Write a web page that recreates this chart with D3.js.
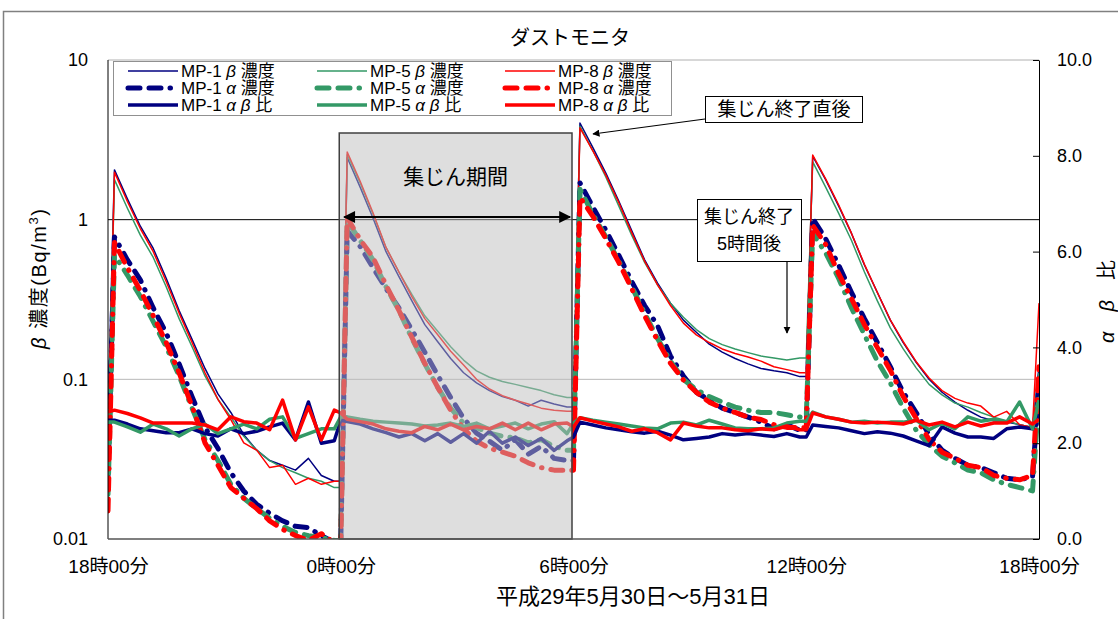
<!DOCTYPE html>
<html>
<head>
<meta charset="utf-8">
<script src="https://cdn.jsdelivr.net/npm/d3@7"></script>
<style>
  body { margin: 0; background: #fff; }
  text { font-family: "Liberation Sans", "Noto Sans CJK JP", sans-serif; fill: #000; }
</style>
</head>
<body>
<svg id="chart"></svg>
<script>
// time in minutes from 18:00 on 5/30
const minutes = [
  0, 10, 30, 50, 70, 90, 110, 130, 150, 170, 190, 210, 230, 250, 270, 290, 310, 330, 350,
  360, 370, 390, 410, 430, 450, 470, 490, 510, 530, 550, 570, 590, 610, 630, 650, 670, 690, 710,
  720, 730, 750, 770, 790, 810, 830, 850, 870, 890, 910, 930, 950, 970, 990, 1010, 1030, 1050, 1070,
  1080, 1090, 1110, 1130, 1150, 1170, 1190, 1210, 1230, 1250, 1270, 1290, 1310, 1330, 1350, 1370, 1390, 1410, 1430,
  1440
];

const xTickMinutes = [0, 360, 720, 1080, 1440];
const xTickLabels = ["18時00分", "0時00分", "6時00分", "12時00分", "18時00分"];
const yTickValues = [0.01, 0.1, 1, 10];
const yTickLabels = ["0.01", "0.1", "1", "10"];
const ratioTicks = [0, 2, 4, 6, 8, 10];

// β concentration (Bq/m3)
const beta1 = [
  0.06, 2.05, 1.35, 0.91, 0.66, 0.43, 0.27, 0.178, 0.117, 0.081, 0.062, 0.045, 0.036, 0.031, 0.029, 0.027, 0.032, 0.025, 0.023,
  0.023, 2.45, 1.60, 1.02, 0.63, 0.44, 0.31, 0.22, 0.172, 0.135, 0.110, 0.095, 0.085, 0.078, 0.074, 0.068, 0.074, 0.070, 0.067,
  0.067, 4.03, 2.83, 1.96, 1.31, 0.855, 0.56, 0.40, 0.30, 0.235, 0.197, 0.166, 0.148, 0.135, 0.125, 0.117, 0.113, 0.110, 0.104,
  0.104, 2.50, 1.78, 1.22, 0.82, 0.52, 0.35, 0.235, 0.17, 0.128, 0.10, 0.083, 0.072, 0.064, 0.058, 0.055, 0.054, 0.052, 0.050,
  0.12
];
const beta5 = [
  0.047, 1.78, 1.18, 0.80, 0.58, 0.38, 0.24, 0.16, 0.105, 0.075, 0.058, 0.044, 0.036, 0.031, 0.028, 0.026, 0.024, 0.023, 0.021,
  0.021, 2.55, 1.70, 1.08, 0.67, 0.47, 0.34, 0.25, 0.20, 0.16, 0.132, 0.113, 0.103, 0.097, 0.093, 0.089, 0.085, 0.080, 0.077,
  0.077, 3.85, 2.70, 1.85, 1.22, 0.80, 0.54, 0.39, 0.30, 0.245, 0.205, 0.18, 0.165, 0.155, 0.147, 0.14, 0.136, 0.132, 0.136,
  0.136, 2.30, 1.60, 1.10, 0.74, 0.47, 0.31, 0.21, 0.155, 0.118, 0.093, 0.080, 0.071, 0.067, 0.062, 0.058, 0.055, 0.052, 0.050,
  0.11
];
const beta8 = [
  0.04, 1.98, 1.30, 0.88, 0.63, 0.41, 0.26, 0.17, 0.11, 0.075, 0.056, 0.040, 0.036, 0.028, 0.029, 0.022, 0.024, 0.022, 0.023,
  0.023, 2.65, 1.74, 1.10, 0.67, 0.47, 0.33, 0.24, 0.19, 0.15, 0.123, 0.10, 0.087, 0.079, 0.074, 0.07, 0.066, 0.064, 0.063,
  0.063, 3.76, 2.70, 1.90, 1.28, 0.83, 0.55, 0.39, 0.29, 0.225, 0.19, 0.17, 0.155, 0.145, 0.138, 0.13, 0.12, 0.115, 0.11,
  0.11, 2.54, 1.80, 1.24, 0.82, 0.525, 0.35, 0.236, 0.172, 0.129, 0.102, 0.085, 0.076, 0.071, 0.068, 0.058, 0.063, 0.052, 0.050,
  0.30
];

// α concentration (Bq/m3)
const alpha1 = [
  0.025, 0.78, 0.56, 0.42, 0.28, 0.195, 0.125, 0.078, 0.05, 0.037, 0.026, 0.020, 0.0165, 0.0145, 0.013, 0.012, 0.0118, 0.0105, 0.0095,
  0.0095, 0.85, 0.68, 0.50, 0.37, 0.28, 0.204, 0.148, 0.106, 0.077, 0.057, 0.046, 0.041, 0.036, 0.042, 0.034, 0.038, 0.032, 0.031,
  0.031, 1.70, 1.20, 0.86, 0.60, 0.41, 0.29, 0.217, 0.14, 0.105, 0.083, 0.074, 0.066, 0.062, 0.058, 0.054, 0.049, 0.052, 0.048,
  0.048, 1.02, 0.76, 0.52, 0.35, 0.24, 0.17, 0.12, 0.083, 0.062, 0.045, 0.036, 0.032, 0.029, 0.028, 0.026, 0.024, 0.0235, 0.0245,
  0.09
];
const alpha5 = [
  0.019, 0.60, 0.45, 0.33, 0.23, 0.16, 0.105, 0.066, 0.042, 0.031, 0.022, 0.018, 0.0155, 0.0135, 0.012, 0.011, 0.0105, 0.0102, 0.0098,
  0.0098, 0.98, 0.74, 0.56, 0.38, 0.27, 0.18, 0.125, 0.089, 0.066, 0.053, 0.050, 0.046, 0.044, 0.043, 0.040, 0.042, 0.038, 0.036,
  0.036, 1.55, 1.08, 0.78, 0.55, 0.38, 0.26, 0.18, 0.13, 0.10, 0.086, 0.078, 0.072, 0.067, 0.064, 0.062, 0.062, 0.060, 0.058,
  0.058, 0.82, 0.62, 0.43, 0.28, 0.19, 0.13, 0.095, 0.066, 0.048, 0.039, 0.033, 0.030, 0.027, 0.026, 0.0235, 0.022, 0.021, 0.020,
  0.08
];
const alpha8 = [
  0.015, 0.72, 0.50, 0.36, 0.25, 0.17, 0.11, 0.068, 0.040, 0.029, 0.021, 0.018, 0.0155, 0.013, 0.0115, 0.0105, 0.0098, 0.0108, 0.0095,
  0.0092, 1.03, 0.75, 0.58, 0.39, 0.27, 0.183, 0.126, 0.089, 0.064, 0.049, 0.041, 0.037, 0.035, 0.033, 0.030, 0.028, 0.027, 0.027,
  0.027, 1.38, 1.05, 0.76, 0.54, 0.37, 0.25, 0.175, 0.126, 0.099, 0.083, 0.072, 0.066, 0.062, 0.058, 0.056, 0.052, 0.050, 0.050,
  0.050, 0.92, 0.70, 0.46, 0.32, 0.22, 0.158, 0.114, 0.078, 0.057, 0.042, 0.035, 0.032, 0.029, 0.028, 0.025, 0.024, 0.0235, 0.025,
  0.12
];

// α/β ratio (right axis)
const ratio1 = [
  2.48, 2.48, 2.40, 2.30, 2.26, 2.22, 2.22, 2.30, 2.20, 2.15, 2.30, 2.20, 2.25, 2.34, 2.42, 2.07, 2.86, 2.00, 2.05,
  2.48, 2.45, 2.40, 2.30, 2.22, 2.13, 2.20, 2.05, 2.20, 2.02, 2.20, 2.00, 2.25, 2.00, 2.13, 1.95, 2.10, 1.85, 2.05,
  2.13, 2.44, 2.38, 2.32, 2.28, 2.24, 2.21, 2.25, 2.17, 2.07, 2.10, 2.13, 2.20, 2.17, 2.20, 2.17, 2.14, 2.20, 2.13,
  2.13, 2.38, 2.35, 2.32, 2.26, 2.20, 2.24, 2.21, 2.15, 2.05, 1.95, 2.34, 2.21, 2.13, 2.13, 2.10, 2.30, 2.34, 2.30,
  2.6
];
const ratio5 = [
  2.44, 2.44, 2.34, 2.23, 2.40, 2.30, 2.15, 2.30, 2.40, 2.20, 2.30, 2.40, 2.30, 2.50, 2.55, 2.10, 2.20, 2.30, 2.30,
  2.55, 2.55, 2.50, 2.46, 2.44, 2.42, 2.40, 2.36, 2.38, 2.42, 2.35, 2.42, 2.30, 2.36, 2.42, 2.30, 2.40, 2.45, 2.20,
  2.42, 2.53, 2.48, 2.44, 2.40, 2.36, 2.32, 2.30, 2.42, 2.44, 2.38, 2.48, 2.40, 2.32, 2.30, 2.30, 2.32, 2.42, 2.46,
  2.46, 2.65, 2.55, 2.50, 2.44, 2.46, 2.42, 2.44, 2.44, 2.48, 2.28, 2.42, 2.30, 2.55, 2.46, 2.50, 2.44, 2.86, 2.30,
  2.9
];
const ratio8 = [
  2.65, 2.69, 2.62, 2.53, 2.42, 2.42, 2.42, 2.42, 2.38, 2.28, 2.55, 2.45, 2.42, 2.28, 2.90, 2.07, 2.76, 2.07, 2.69,
  2.63, 2.50, 2.45, 2.40, 2.30, 2.25, 2.22, 2.35, 2.28, 2.40, 2.28, 2.35, 2.30, 2.42, 2.28, 2.42, 2.28, 2.40, 2.42,
  2.34, 2.53, 2.46, 2.40, 2.34, 2.25, 2.30, 2.22, 2.07, 2.42, 2.36, 2.32, 2.32, 2.28, 2.26, 2.30, 2.28, 2.36, 2.28,
  2.28, 2.63, 2.55, 2.50, 2.44, 2.42, 2.44, 2.42, 2.40, 2.48, 2.38, 2.44, 2.34, 2.44, 2.36, 2.42, 2.42, 2.55, 2.40,
  2.5
];

const navy = "#000080", green = "#339966", red = "#ff0000";

const series = [
  { name: "MP-1", kind: "beta",  values: beta1,  color: navy },
  { name: "MP-5", kind: "beta",  values: beta5,  color: green },
  { name: "MP-8", kind: "beta",  values: beta8,  color: red },
  { name: "MP-1", kind: "alpha", values: alpha1, color: navy },
  { name: "MP-5", kind: "alpha", values: alpha5, color: green },
  { name: "MP-8", kind: "alpha", values: alpha8, color: red },
  { name: "MP-1", kind: "ratio", values: ratio1, color: navy },
  { name: "MP-5", kind: "ratio", values: ratio5, color: green },
  { name: "MP-8", kind: "ratio", values: ratio8, color: red }
];

const styles = {
  beta:  { width: 1.5, dash: null, cap: "butt" },
  alpha: { width: 5, dash: "12,9,12,9,0.5,9", cap: "round" },
  ratio: { width: 3.5, dash: null, cap: "butt" }
};

function drawChart() {
  const W = 1118, H = 619;
  const plot = { left: 108, right: 1039, top: 60, bottom: 539 };

  const svg = d3.select("#chart").attr("width", W).attr("height", H);

  const x = d3.scaleLinear().domain([0, 1440]).range([plot.left, plot.right]);
  const y = d3.scaleLog().domain([0.01, 10]).range([plot.bottom, plot.top]);
  const y2 = d3.scaleLinear().domain([0, 10]).range([plot.bottom, plot.top]);

  // outer frame
  svg.append("rect")
    .attr("x", 3.5).attr("y", 11.5)
    .attr("width", W + 50).attr("height", H + 50)
    .attr("fill", "none").attr("stroke", "#808080").attr("stroke-width", 1.5);

  const defs = svg.append("defs");
  defs.append("clipPath").attr("id", "plotClip")
    .append("rect")
    .attr("x", plot.left).attr("y", plot.top)
    .attr("width", plot.right - plot.left).attr("height", plot.bottom - plot.top);
  defs.append("marker")
    .attr("id", "arrow")
    .attr("viewBox", "0 0 10 10")
    .attr("refX", 9).attr("refY", 5)
    .attr("markerWidth", 6).attr("markerHeight", 6)
    .attr("markerUnits", "strokeWidth")
    .attr("orient", "auto-start-reverse")
    .append("path").attr("d", "M0,0 L10,5 L0,10 Z").attr("fill", "#000");
  defs.append("marker")
    .attr("id", "arrowBig")
    .attr("viewBox", "0 0 10 10")
    .attr("refX", 9).attr("refY", 5)
    .attr("markerWidth", 7).attr("markerHeight", 6)
    .attr("markerUnits", "strokeWidth")
    .attr("orient", "auto-start-reverse")
    .append("path").attr("d", "M0,0 L10,5 L0,10 Z").attr("fill", "#000");

  // gridlines
  svg.append("line")
    .attr("x1", plot.left).attr("x2", plot.right)
    .attr("y1", y(10)).attr("y2", y(10))
    .attr("stroke", "#b0b0b0");
  svg.append("line")
    .attr("x1", plot.left).attr("x2", plot.right)
    .attr("y1", y(0.1)).attr("y2", y(0.1))
    .attr("stroke", "#b8b8b8");
  svg.append("line")
    .attr("x1", plot.left).attr("x2", plot.right)
    .attr("y1", y(1)).attr("y2", y(1))
    .attr("stroke", "#000");

  // series
  const lines = svg.append("g").attr("clip-path", "url(#plotClip)");
  series.forEach((s) => {
    const st = styles[s.kind];
    const yy = s.kind === "ratio" ? y2 : y;
    const gen = d3.line()
      .x((d, i) => x(minutes[i]))
      .y((d) => yy(d));
    lines.append("path")
      .datum(s.values)
      .attr("d", gen)
      .attr("fill", "none")
      .attr("stroke", s.color)
      .attr("stroke-width", st.width)
      .attr("stroke-linejoin", "round")
      .attr("stroke-linecap", st.cap)
      .attr("stroke-dasharray", st.dash);
  });

  // dust collection period box (drawn over the lines)
  const boxX0 = x(360) - 1.5, boxX1 = x(720) - 1.5;
  svg.append("rect")
    .attr("x", boxX0).attr("y", 133)
    .attr("width", boxX1 - boxX0).attr("height", plot.bottom - 133)
    .attr("fill", "rgba(190,190,190,0.5)")
    .attr("stroke", "#404040").attr("stroke-width", 1.5);

  svg.append("text")
    .attr("x", (boxX0 + boxX1) / 2).attr("y", 184)
    .attr("text-anchor", "middle")
    .style("font-size", "21px")
    .text("集じん期間");

  svg.append("line")
    .attr("x1", boxX0 + 5).attr("x2", boxX1 - 2)
    .attr("y1", 217).attr("y2", 217)
    .attr("stroke", "#000").attr("stroke-width", 2)
    .attr("marker-start", "url(#arrowBig)")
    .attr("marker-end", "url(#arrowBig)");

  // axes lines
  svg.append("line")
    .attr("x1", plot.left).attr("x2", plot.left)
    .attr("y1", plot.top).attr("y2", plot.bottom)
    .attr("stroke", "#000");
  svg.append("line")
    .attr("x1", plot.left).attr("x2", plot.right)
    .attr("y1", plot.bottom).attr("y2", plot.bottom)
    .attr("stroke", "#555").attr("stroke-width", 1.5);

  const leftAxis = svg.append("g")
    .attr("transform", `translate(${plot.left},0)`)
    .call(d3.axisLeft(y).tickValues(yTickValues)
      .tickFormat((d, i) => yTickLabels[i]).tickSize(0).tickPadding(20));
  leftAxis.select(".domain").remove();

  const rightAxis = svg.append("g")
    .attr("transform", `translate(${plot.right},0)`)
    .call(d3.axisRight(y2).tickValues(ratioTicks)
      .tickFormat(d3.format(".1f")).tickSizeInner(-6).tickSizeOuter(0).tickPadding(18));
  rightAxis.select(".domain").attr("stroke", "#000");

  const bottomAxis = svg.append("g")
    .attr("transform", `translate(0,${plot.bottom})`)
    .call(d3.axisBottom(x).tickValues(xTickMinutes)
      .tickFormat((d, i) => xTickLabels[i]).tickSize(0).tickPadding(21));
  bottomAxis.select(".domain").remove();

  svg.selectAll(".tick text")
    .style("font-family", "'Liberation Sans', 'Noto Sans CJK JP', sans-serif")
    .style("font-size", "18px")
    .attr("fill", "#000");
  bottomAxis.selectAll(".tick text").style("font-size", "19px");

  // titles
  svg.append("text")
    .attr("x", 570).attr("y", 45)
    .attr("text-anchor", "middle")
    .style("font-size", "20px")
    .text("ダストモニタ");

  svg.append("text")
    .attr("x", 633).attr("y", 604)
    .attr("text-anchor", "middle")
    .style("font-size", "22px")
    .text("平成29年5月30日～5月31日");

  const yTitle = svg.append("text")
    .attr("transform", "translate(46,349) rotate(-90)")
    .attr("text-anchor", "start")
    .attr("textLength", 140)
    .attr("lengthAdjust", "spacing")
    .style("font-size", "20px");
  yTitle.append("tspan").style("font-style", "italic").text("β");
  yTitle.append("tspan").text(" 濃度(Bq/m");
  yTitle.append("tspan").attr("dy", -8).style("font-size", "13px").text("3");
  yTitle.append("tspan").attr("dy", 8).text(")");

  const y2Title = svg.append("text")
    .attr("transform", "translate(1114,343) rotate(-90)")
    .attr("text-anchor", "start")
    .attr("textLength", 83)
    .attr("lengthAdjust", "spacing")
    .style("font-size", "20px");
  y2Title.append("tspan").style("font-style", "italic").text("α β");
  y2Title.append("tspan").text(" 比");

  // legend
  const legend = svg.append("g");
  legend.append("rect")
    .attr("x", 113.5).attr("y", 61.5)
    .attr("width", 558).attr("height", 54)
    .attr("fill", "#fff").attr("stroke", "#909090");

  const colX = [126, 315, 503];
  const rowY = { beta: 71, alpha: 88, ratio: 105 };
  const kindLabel = { beta: ["β", " 濃度"], alpha: ["α", " 濃度"], ratio: ["α β", " 比"] };
  series.forEach((s, i) => {
    const cx = colX[i % 3];
    const ry = rowY[s.kind];
    const st = styles[s.kind];
    legend.append("line")
      .attr("x1", cx + 2).attr("x2", cx + 52)
      .attr("y1", ry).attr("y2", ry)
      .attr("stroke", s.color)
      .attr("stroke-width", st.width)
      .attr("stroke-linecap", st.cap)
      .attr("stroke-dasharray", st.dash);
    const t = legend.append("text")
      .attr("x", cx + 55).attr("y", ry + 6)
      .style("font-size", "17px");
    t.append("tspan").text(s.name + " ");
    t.append("tspan").style("font-style", "italic").text(kindLabel[s.kind][0]);
    t.append("tspan").text(kindLabel[s.kind][1]);
  });

  // annotation: just after collection ended
  svg.append("line")
    .attr("x1", 705).attr("y1", 119)
    .attr("x2", 593).attr("y2", 134)
    .attr("stroke", "#000").attr("stroke-width", 1.2)
    .attr("marker-end", "url(#arrow)");
  svg.append("rect")
    .attr("x", 705.5).attr("y", 96.5)
    .attr("width", 157).attr("height", 26)
    .attr("fill", "#fff").attr("stroke", "#000");
  svg.append("text")
    .attr("x", 784).attr("y", 116)
    .attr("text-anchor", "middle")
    .style("font-size", "19px")
    .text("集じん終了直後");

  // annotation: 5 hours after collection ended
  svg.append("rect")
    .attr("x", 697.5).attr("y", 199.5)
    .attr("width", 104).attr("height", 62)
    .attr("fill", "#fff").attr("stroke", "#000");
  svg.append("text")
    .attr("x", 749).attr("y", 223)
    .attr("text-anchor", "middle")
    .style("font-size", "18px")
    .text("集じん終了");
  svg.append("text")
    .attr("x", 749).attr("y", 250)
    .attr("text-anchor", "middle")
    .style("font-size", "18px")
    .text("5時間後");
  svg.append("line")
    .attr("x1", 787).attr("y1", 262)
    .attr("x2", 787).attr("y2", 333)
    .attr("stroke", "#000").attr("stroke-width", 1.2)
    .attr("marker-end", "url(#arrow)");
}

drawChart();
</script>
</body>
</html>
